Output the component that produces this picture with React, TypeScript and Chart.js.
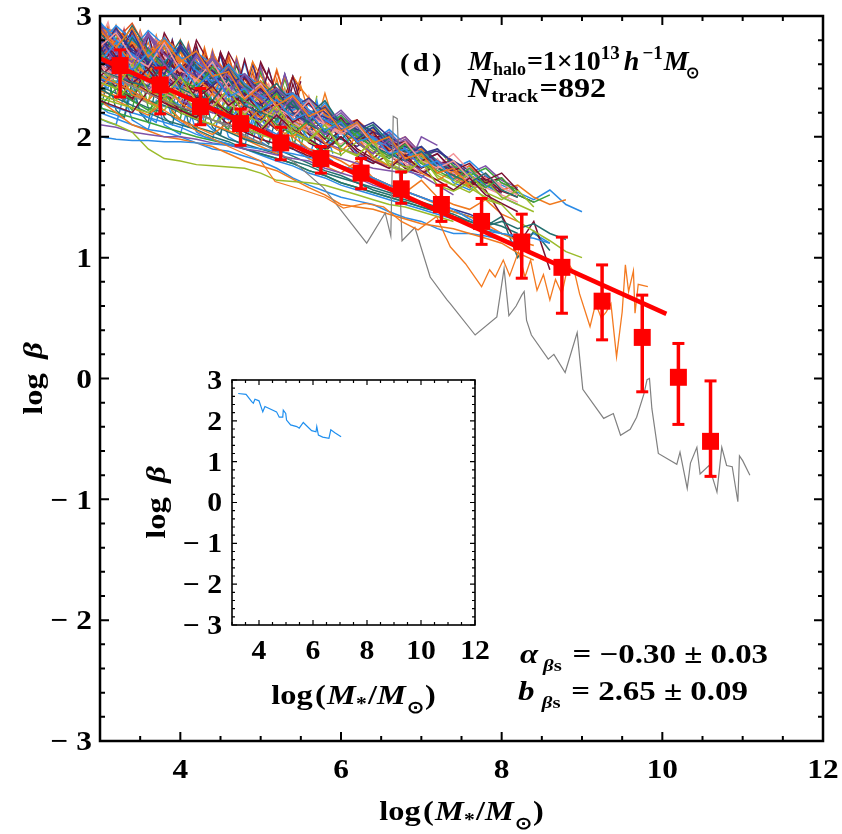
import { useEffect, useRef } from 'react';
import { Chart, registerables } from 'chart.js';

Chart.register(...registerables);

const SERIF = '"Liberation Serif", "Times New Roman", Times, serif';

// Sampling grid (log M*) shared by the individual satellite tracks
const TRACK_X = [3.0, 3.2, 3.4, 3.6, 3.8, 4.0, 4.2, 4.4, 4.6, 4.8, 5.0, 5.2, 5.4, 5.6, 5.8, 6.0, 6.2, 6.4, 6.6, 6.8, 7.0, 7.2, 7.4, 7.6, 7.8, 8.0, 8.2, 8.4, 8.6, 8.8, 9.0];

// log beta along each track, one row per track
const TRACKS: number[][] = [
  [2.88, 2.74, 2.9, 2.66, 2.8, 2.62, 2.71, 2.5, 2.54, 2.31, 2.42, 2.26, 2.34, 2.17, 2.23, 2.05, 2.12, 1.95, 2.0, 1.82, 1.86, 1.7, 1.74, 1.6],
  [2.62, 2.78, 2.55, 2.7, 2.48, 2.6, 2.42, 2.53, 2.33, 2.4, 2.22, 2.31, 2.14, 2.2, 2.05, 2.12, 1.96, 2.0, 1.86, 1.9, 1.75, 1.8, 1.64],
  [2.45, 2.4, 2.6, 2.38, 2.33, 2.5, 2.3, 2.24, 2.4, 2.18, 2.12, 2.26, 2.05, 1.98, 2.1, 1.9, 1.85, 1.96, 1.76, 1.7, 1.8, 1.6, 1.55, 1.62, 1.48, 1.44],
  [2.92, 2.7, 2.55, 2.85, 2.6, 2.46, 2.68, 2.5, 2.36, 2.52, 2.32, 2.2, 2.32, 2.14, 2.02, 2.12, 1.96, 1.86, 1.98, 1.8, 1.72],
  [2.3, 2.25, 2.2, 2.38, 2.28, 2.22, 2.16, 2.3, 2.2, 2.12, 2.05, 2.18, 2.06, 1.98, 1.9, 2.0, 1.88, 1.8, 1.74, 1.85, 1.72, 1.64, 1.56, 1.66, 1.52, 1.45, 1.38],
  [2.75, 2.86, 2.66, 2.58, 2.78, 2.55, 2.47, 2.62, 2.4, 2.32, 2.44, 2.24, 2.16, 2.3, 2.1, 2.02, 2.1, 1.94, 1.87, 1.96, 1.8, 1.74, 1.8, 1.66],
  [2.55, 2.5, 2.45, 2.42, 2.62, 2.4, 2.34, 2.3, 2.48, 2.26, 2.2, 2.15, 2.3, 2.1, 2.04, 1.98, 2.1, 1.92, 1.86, 1.8, 1.88, 1.74, 1.68, 1.62, 1.7, 1.56, 1.5],
  [2.0, 1.98, 1.97, 1.97, 1.96, 1.96, 1.95, 1.94, 1.93, 1.92, 1.9, 1.88, 1.86, 1.83, 1.8, 1.76, 1.72, 1.66, 1.6, 1.55, 1.5, 1.45, 1.4, 1.32, 1.25, 1.2, 1.18, 1.16, 1.12],
  [2.15, 2.1, 2.04, 1.9, 1.82, 1.8, 1.77, 1.76, 1.75, 1.74, 1.7, 1.64, 1.63, 1.62, 1.6, 1.56, 1.52, 1.48, 1.44, 1.42, 1.38, 1.34, 1.3],
  [2.1, 2.08, 2.04, 2.02, 2.0, 2.0, 1.98, 1.95, 1.93, 1.9, 1.88, 1.85, 1.82, 1.8, 1.74, 1.7, 1.66, 1.6, 1.56, 1.5, 1.45],
  [2.82, 2.64, 2.88, 2.6, 2.52, 2.74, 2.5, 2.42, 2.56, 2.34, 2.26, 2.38, 2.2, 2.12, 2.24, 2.06, 1.98, 2.08, 1.92, 1.84, 1.92, 1.78, 1.72],
  [2.68, 2.58, 2.5, 2.72, 2.56, 2.48, 2.4, 2.58, 2.4, 2.3, 2.22, 2.36, 2.2, 2.12, 2.04, 2.14, 2.0, 1.92, 1.84, 1.94, 1.8, 1.72, 1.65, 1.74, 1.6],
  [2.4, 2.56, 2.35, 2.3, 2.45, 2.28, 2.2, 2.36, 2.16, 2.1, 2.24, 2.06, 2.0, 2.12, 1.95, 1.88, 2.0, 1.82, 1.76, 1.86, 1.7, 1.64, 1.72, 1.58],
  [2.95, 2.8, 2.68, 2.58, 2.82, 2.66, 2.55, 2.46, 2.6, 2.44, 2.34, 2.26, 2.36, 2.22, 2.14, 2.06, 2.12, 1.98, 1.92, 1.84, 1.88, 1.76],
  [2.5, 2.62, 2.44, 2.56, 2.38, 2.5, 2.32, 2.42, 2.26, 2.36, 2.2, 2.28, 2.12, 2.2, 2.04, 2.12, 1.96, 2.04, 1.88, 1.95, 1.8, 1.86, 1.72, 1.78, 1.64, 1.7, 1.56],
  [2.78, 2.7, 2.62, 2.84, 2.68, 2.58, 2.5, 2.66, 2.5, 2.4, 2.32, 2.4, 2.28, 2.2, 2.12, 2.22, 2.08, 2.0, 1.94, 2.0, 1.86, 1.8, 1.74],
  [2.35, 2.3, 2.45, 2.28, 2.22, 2.4, 2.2, 2.14, 2.32, 2.12, 2.06, 2.22, 2.02, 1.96, 2.1, 1.9, 1.84, 1.98, 1.78, 1.72, 1.85, 1.66, 1.6, 1.7, 1.54, 1.48, 1.56, 1.42],
  [2.86, 2.7, 2.92, 2.72, 2.6, 2.8, 2.58, 2.48, 2.6, 2.42, 2.34, 2.44, 2.26, 2.18, 2.3, 2.1, 2.04, 2.1, 1.96, 1.88, 1.92, 1.8],
  [2.6, 2.5, 2.42, 2.36, 2.55, 2.4, 2.32, 2.26, 2.46, 2.3, 2.22, 2.16, 2.34, 2.18, 2.1, 2.04, 2.12, 1.98, 1.92, 1.86, 1.88, 1.76, 1.7, 1.64, 1.7, 1.58, 1.52],
  [2.7, 2.9, 2.7, 2.62, 2.55, 2.76, 2.58, 2.5, 2.44, 2.5, 2.38, 2.3, 2.24, 2.32, 2.2, 2.12, 2.06, 2.12, 2.0, 1.92, 1.86, 1.9, 1.78, 1.7],
  [2.25, 2.4, 2.3, 2.22, 2.35, 2.24, 2.16, 2.3, 2.18, 2.1, 2.24, 2.1, 2.02, 2.14, 2.0, 1.92, 2.04, 1.9, 1.82, 1.94, 1.78, 1.7, 1.8, 1.66, 1.58, 1.66, 1.52, 1.46, 1.52],
  [2.9, 2.76, 2.62, 2.5, 2.8, 2.6, 2.48, 2.38, 2.56, 2.4, 2.3, 2.22, 2.36, 2.22, 2.12, 2.04, 2.12, 1.98, 1.9, 1.82, 1.88, 1.76, 1.68, 1.6],
  [2.48, 2.44, 2.7, 2.52, 2.45, 2.4, 2.6, 2.42, 2.36, 2.3, 2.44, 2.26, 2.18, 2.14, 2.28, 2.1, 2.02, 1.96, 2.02, 1.9, 1.82, 1.76, 1.8, 1.68, 1.6],
  [2.58, 2.66, 2.52, 2.46, 2.58, 2.44, 2.38, 2.5, 2.35, 2.28, 2.4, 2.24, 2.18, 2.28, 2.12, 2.06, 2.12, 1.98, 1.92, 1.96, 1.84, 1.78, 1.8, 1.68, 1.62, 1.66, 1.52, 1.46],
  [2.8, 2.62, 2.5, 2.74, 2.58, 2.46, 2.66, 2.5, 2.38, 2.52, 2.36, 2.24, 2.36, 2.22, 2.1, 2.2, 2.06, 1.96, 2.04, 1.9, 1.8, 1.86, 1.72, 1.64],
  [2.32, 2.28, 2.24, 2.2, 2.32, 2.2, 2.15, 2.1, 2.2, 2.08, 2.02, 1.97, 2.08, 1.96, 1.9, 1.85, 1.96, 1.84, 1.76, 1.7, 1.82, 1.68, 1.6, 1.54, 1.64, 1.5, 1.44, 1.38],
  [2.72, 2.56, 2.82, 2.64, 2.52, 2.72, 2.56, 2.44, 2.56, 2.4, 2.3, 2.4, 2.26, 2.16, 2.24, 2.1, 2.0, 2.08, 1.94, 1.86, 1.88],
  [2.42, 2.5, 2.58, 2.44, 2.36, 2.3, 2.48, 2.34, 2.27, 2.2, 2.38, 2.22, 2.15, 2.08, 2.22, 2.08, 2.0, 1.94, 2.0, 1.9, 1.82, 1.76, 1.86, 1.72, 1.66, 1.6],
  [2.66, 2.86, 2.72, 2.64, 2.56, 2.5, 2.7, 2.55, 2.46, 2.4, 2.32, 2.4, 2.3, 2.22, 2.16, 2.1, 2.12, 2.04, 1.98, 1.92, 1.86, 1.88, 1.8, 1.72],
  [2.52, 2.4, 2.34, 2.52, 2.38, 2.3, 2.45, 2.3, 2.22, 2.38, 2.24, 2.14, 2.3, 2.16, 2.06, 2.18, 2.04, 1.96, 2.02, 1.9, 1.82, 1.9, 1.76, 1.68, 1.74, 1.62, 1.56],
  [2.6, 2.52, 2.46, 2.4, 2.36, 2.3, 2.26, 2.22, 2.58, 2.34, 2.1, 2.0, 2.3, 2.04, 1.95, 1.9, 1.86, 1.8, 1.76, 1.72, 1.68, 1.6, 1.52],
  [2.75, 2.5, 2.3, 2.62, 2.4, 2.2, 2.58, 2.35, 2.16, 2.5, 2.28, 2.06, 2.34, 2.1, 1.98, 2.16, 1.95, 1.86, 2.0, 1.82, 1.74, 1.8, 1.68, 1.6, 1.66, 1.55, 1.5],
  [2.7, 2.55, 2.45, 2.36, 2.3, 2.22, 2.15, 2.1, 2.05, 2.0, 1.95, 2.34, 2.0, 1.9, 1.86, 1.8, 1.72, 1.66, 1.6, 1.55, 1.5, 1.44, 1.38, 1.34, 1.28, 1.2, 1.14, 1.1],
  [2.3, 2.2, 2.1, 2.05, 2.0, 1.98, 1.95, 1.92, 1.86, 1.8, 1.76, 1.72, 1.65, 1.58, 1.52, 1.44, 1.42, 1.4, 1.36, 1.32, 1.28, 1.26, 1.24, 1.2, 1.16, 1.12, 1.04, 0.98],
  [2.2, 2.15, 2.1, 2.06, 2.04, 2.0, 1.95, 1.9, 1.88, 1.84, 1.8, 1.74, 1.66, 1.6, 1.55, 1.5, 1.47, 1.44, 1.38, 1.33, 1.3, 1.24, 1.2, 1.2, 1.18, 1.15, 1.12],
  [2.5, 2.44, 2.38, 2.3, 2.26, 2.2, 2.14, 2.1, 2.04, 1.98, 1.94, 1.9, 1.84, 1.78, 1.72, 1.68, 1.62, 1.56, 1.52, 1.48, 1.44, 1.4, 1.36, 1.3, 1.26, 1.3, 1.24, 1.28, 1.2, 1.15],
  [2.62, 2.56, 2.5, 2.46, 2.4, 2.34, 2.3, 2.25, 2.2, 2.12, 2.06, 2.0, 1.94, 1.88, 1.82, 1.76, 1.7, 1.66, 1.6, 1.55, 1.5, 1.45, 1.4, 1.36, 1.3],
  [2.85, 2.7, 2.6, 2.52, 2.44, 2.6, 2.45, 2.36, 2.28, 2.2, 2.32, 2.2, 2.12, 2.04, 1.98, 2.1, 1.98, 1.9, 1.84, 1.78, 1.7, 1.82, 1.66, 1.6, 1.58, 1.52, 1.46],
  [2.45, 2.4, 2.34, 2.28, 2.25, 2.22, 2.18, 2.14, 2.1, 2.06, 2.02, 1.98, 1.92, 1.86, 1.8, 1.74, 1.7, 1.65, 1.6, 1.55],
  [2.55, 2.45, 2.65, 2.5, 2.4, 2.3, 2.5, 2.36, 2.26, 2.18, 2.35, 2.2, 2.1, 2.04, 1.98, 2.1, 1.96, 1.88, 1.8, 1.75, 1.8, 1.7, 1.64, 1.58, 1.5, 1.44, 1.3, 1.22, 1.14, 1.05, 1.0],
  [2.58, 2.4, 2.32, 2.52, 2.3, 2.2, 2.4, 2.22, 2.1, 2.26, 2.08, 2.0, 2.12, 1.95, 1.88, 2.0, 1.84, 1.78, 1.85, 1.74, 1.7, 1.76, 1.66, 1.62, 1.56, 1.35, 1.1, 1.3, 0.9],
  [2.4, 2.32, 2.26, 2.2, 2.14, 2.1, 2.06, 2.0, 1.96, 1.9, 1.86, 1.82, 1.78, 1.72, 1.68, 1.62, 1.58, 1.54, 1.5, 1.46, 1.42, 1.38, 1.34, 1.3, 1.26, 1.34, 1.0, 1.22, 1.06],
  [2.28, 2.24, 2.2, 2.16, 2.12, 2.08, 2.02, 1.98, 1.94, 1.9, 1.85, 1.8, 1.76, 1.7, 1.66, 1.6, 1.56, 1.52, 1.48, 1.44, 1.4, 1.36, 1.32, 1.28, 1.22, 1.2, 1.16, 1.2, 1.12],
  [2.7, 2.6, 2.5, 2.42, 2.36, 2.3, 2.24, 2.2, 2.15, 2.1, 2.04, 2.0, 1.95, 1.9, 1.86, 1.82, 1.78, 1.74, 1.72, 1.7, 2.0, 1.93],
  [2.6, 2.5, 2.44, 2.38, 2.3, 2.24, 2.2, 2.14, 2.1, 2.04, 1.98, 1.94, 1.9, 1.84, 1.8, 1.75, 1.72, 2.0, 2.0, 1.86, 1.78, 1.74, 1.72, 1.68, 1.58],
  [2.9, 2.84, 2.78, 2.7, 2.82, 2.7, 2.6, 2.5, 2.58, 2.44, 2.36, 2.28, 2.34, 2.2, 2.12, 2.05, 2.1, 1.98, 1.9],
  [2.76, 2.92, 2.8, 2.7, 2.62, 2.76, 2.62, 2.52, 2.44, 2.5, 2.38, 2.3, 2.22, 2.3, 2.16, 2.08],
  [2.86, 2.62, 2.76, 2.56, 2.7, 2.5, 2.62, 2.42, 2.54, 2.34, 2.44, 2.24, 2.34, 2.16, 2.24, 2.06, 2.14, 1.98, 2.0, 1.86],
  [2.64, 2.8, 2.94, 2.7, 2.56, 2.76, 2.6, 2.48, 2.6, 2.44, 2.32, 2.4, 2.26, 2.16, 2.26, 2.1, 2.02],
  [2.94, 2.78, 2.66, 2.86, 2.7, 2.58, 2.5, 2.64, 2.5, 2.4, 2.32, 2.4, 2.28, 2.18, 2.12, 2.16, 2.04, 1.96, 1.9, 1.98, 1.84, 1.76],
  [2.7, 2.6, 2.84, 2.66, 2.56, 2.74, 2.58, 2.48, 2.58, 2.42, 2.32, 2.4, 2.26, 2.16, 2.25, 2.1, 2.02, 2.08, 1.94, 1.86, 1.88, 1.76, 1.7, 1.72, 1.6, 1.52],
  [2.84, 2.9, 2.76, 2.68, 2.8, 2.64, 2.56, 2.66, 2.52, 2.42, 2.46, 2.32, 2.24, 2.32, 2.18, 2.08, 2.12, 2.0, 1.92, 1.96, 1.84, 1.76],
  [2.58, 2.76, 2.62, 2.86, 2.64, 2.52, 2.7, 2.54, 2.42, 2.52, 2.38, 2.26, 2.36, 2.2, 2.1, 2.16, 2.04, 1.94, 2.0, 1.88, 1.8],
  [2.8, 2.7, 2.62, 2.56, 2.5, 2.72, 2.6, 2.5, 2.44, 2.38, 2.46, 2.34, 2.26, 2.2, 2.14, 2.16, 2.06, 1.98, 1.92, 1.86, 1.88, 1.8, 1.72, 1.66],
  [2.46, 2.64, 2.5, 2.42, 2.6, 2.44, 2.36, 2.54, 2.38, 2.3, 2.42, 2.28, 2.2, 2.3, 2.16, 2.08, 2.12, 2.0, 1.92, 1.98, 1.84, 1.76, 1.76, 1.68, 1.6, 1.62, 1.52],
  [2.92, 2.86, 2.72, 2.88, 2.76, 2.64, 2.7, 2.6, 2.5, 2.52, 2.42, 2.34, 2.36, 2.26, 2.18, 2.16, 2.1, 2.02],
  [2.38, 2.34, 2.5, 2.36, 2.3, 2.46, 2.3, 2.24, 2.4, 2.24, 2.16, 2.3, 2.14, 2.06, 2.2, 2.04, 1.96, 2.06, 1.92, 1.84, 1.9, 1.78, 1.7, 1.76, 1.64, 1.56, 1.6, 1.5, 1.44, 1.48],
  [2.68, 2.54, 2.44, 2.62, 2.48, 2.38, 2.3, 2.5, 2.36, 2.26, 2.2, 2.34, 2.2, 2.1, 2.04, 2.14, 2.02, 1.94, 1.88, 1.94, 1.84, 1.76, 1.7, 1.72, 1.62, 1.56],
  [2.88, 2.66, 2.84, 2.6, 2.8, 2.56, 2.7, 2.5, 2.6, 2.42, 2.46, 2.3, 2.36, 2.2, 2.24, 2.08, 2.12, 1.96, 2.02, 1.86, 1.88, 1.74, 1.76, 1.62, 1.64, 1.52],
  [2.5, 2.46, 2.42, 2.62, 2.46, 2.4, 2.34, 2.3, 2.48, 2.34, 2.26, 2.2, 2.16, 2.3, 2.16, 2.08, 2.02, 1.96, 2.06, 1.94, 1.86, 1.8, 1.74, 1.8, 1.68, 1.6, 1.54, 1.48, 1.56, 1.44, 1.38],
  [2.74, 2.9, 2.74, 2.64, 2.8, 2.64, 2.56, 2.66, 2.52, 2.42, 2.46, 2.32, 2.24, 2.32, 2.18, 2.1, 2.14, 2.02, 1.94, 2.0, 1.86],
  [2.52, 2.44, 2.36, 2.5, 2.34, 2.26, 2.4, 2.22, 2.14, 2.28, 2.1, 2.02, 2.16, 1.98, 1.9, 2.04, 1.86, 1.78, 1.92, 1.74, 1.66, 1.8, 1.62, 1.56, 1.66, 1.5, 1.44],
  [2.36, 2.3, 2.24, 2.18, 2.3, 2.14, 2.08, 2.02, 2.12, 1.98, 1.92, 1.86, 1.96, 1.82, 1.76, 1.7, 1.8, 1.66, 1.6, 1.54, 1.64, 1.5, 1.44, 1.4, 1.48, 1.36, 1.3],
  [2.66, 2.5, 2.42, 2.56, 2.4, 2.3, 2.44, 2.28, 2.2, 2.32, 2.16, 2.06, 2.2, 2.02, 1.94, 2.06, 1.9, 1.82, 1.94, 1.76, 1.7, 1.8, 1.66, 1.58, 1.68, 1.54],
  [2.42, 2.36, 2.3, 2.24, 2.2, 2.14, 2.08, 2.04, 1.98, 1.94, 1.9, 1.86, 1.8, 1.76, 1.7, 1.66, 1.62, 1.58, 1.54, 1.5, 1.46, 1.42, 1.38, 1.34, 1.3, 1.26, 1.2],
  [2.76, 2.6, 2.5, 2.66, 2.5, 2.4, 2.54, 2.38, 2.28, 2.4, 2.26, 2.16, 2.28, 2.12, 2.04, 2.16, 2.0, 1.92, 2.02, 1.88, 1.8, 1.9, 1.76, 1.7, 1.76, 1.64, 1.58],
  [2.24, 2.2, 2.16, 2.12, 2.08, 2.04, 2.0, 1.97, 1.94, 1.9, 1.86, 1.82, 1.78, 1.72, 1.68, 1.62, 1.58, 1.54, 1.5, 1.46, 1.42, 1.38, 1.34, 1.3, 1.24, 1.2, 1.16],
  [2.58, 2.5, 2.44, 2.38, 2.5, 2.36, 2.3, 2.24, 2.36, 2.22, 2.16, 2.1, 2.2, 2.06, 2.0, 1.94, 2.04, 1.9, 1.84, 1.78, 1.86, 1.74, 1.68, 1.62, 1.7, 1.58, 1.52],
  [2.48, 2.42, 2.56, 2.4, 2.34, 2.46, 2.3, 2.24, 2.36, 2.2, 2.14, 2.26, 2.1, 2.04, 2.14, 1.98, 1.92, 2.02, 1.86, 1.8, 1.9, 1.74, 1.68, 1.76, 1.6, 1.54],
];

// Colour key per track (see PALETTE)
const TRACK_COLORS = [
  'o', 'b', 'g', 'p', 'm', 'k', 't', 'b', 'g', 'p',
  'n', 'G', 'o', 'b', 'm', 'p', 'g', 't', 'k', 'n',
  'G', 'o', 'b', 'm', 'p', 'g', 't', 'k', 'n', 'G',
  'p', 'm', 'o', 'o', 'b', 't', 'n', 'k', 'y', 'g',
  'm', 't', 'b', 'p', 'm', 'o', 'b', 'm', 'r', 'p',
  'b', 'o', 'm', 'G', 'k', 'b', 'o', 'n', 'm', 'b',
  'r', 'b', 'o', 'm', 't', 'p', 'G', 'k', 'n',
];

// Finer grid for the strongly jagged early parts of the tracks
const TRACK_XF = [3.0, 3.1, 3.2, 3.3, 3.4, 3.5, 3.6, 3.7, 3.8, 3.9, 4.0, 4.1, 4.2, 4.3, 4.4, 4.5, 4.6, 4.7, 4.8, 4.9, 5.0, 5.1, 5.2, 5.3, 5.4, 5.5, 5.6, 5.7, 5.8, 5.9, 6.0];

const TRACKS_F: number[][] = [
  [2.92, 2.7, 2.62, 2.88, 2.66, 2.58, 2.85, 2.62, 2.52, 2.8, 2.58, 2.48, 2.76, 2.52, 2.44, 2.7, 2.46, 2.38, 2.64, 2.4, 2.32, 2.56, 2.34, 2.26, 2.5, 2.28],
  [2.6, 2.85, 2.55, 2.5, 2.82, 2.52, 2.46, 2.78, 2.48, 2.42, 2.74, 2.44, 2.38, 2.68, 2.4, 2.34, 2.62, 2.34, 2.28, 2.55, 2.3, 2.22, 2.48, 2.24, 2.16, 2.42, 2.2, 2.12, 2.36, 2.14],
  [2.45, 2.4, 2.72, 2.4, 2.36, 2.32, 2.68, 2.36, 2.3, 2.62, 2.3, 2.26, 2.22, 2.56, 2.24, 2.18, 2.5, 2.2, 2.14, 2.1, 2.44, 2.12, 2.06, 2.36, 2.06, 2.0, 1.96, 2.3, 1.98, 1.92],
  [2.8, 2.95, 2.68, 2.9, 2.62, 2.86, 2.58, 2.82, 2.54, 2.76, 2.5, 2.7, 2.46, 2.66, 2.42, 2.6, 2.38, 2.54, 2.32, 2.5, 2.28, 2.44, 2.24, 2.38, 2.2, 2.32],
  [2.3, 2.26, 2.6, 2.3, 2.22, 2.55, 2.24, 2.2, 2.5, 2.2, 2.15, 2.46, 2.16, 2.1, 2.42, 2.12, 2.06, 2.36, 2.08, 2.02, 2.3, 2.02, 1.98, 2.24, 1.96, 1.92, 2.18, 1.9, 1.86, 2.12, 1.84],
  [2.88, 2.6, 2.9, 2.64, 2.55, 2.86, 2.6, 2.5, 2.82, 2.54, 2.46, 2.76, 2.5, 2.42, 2.7, 2.44, 2.38, 2.64, 2.4, 2.32, 2.58, 2.34, 2.28, 2.52, 2.28, 2.22],
  [2.7, 2.64, 2.58, 2.52, 2.8, 2.7, 2.62, 2.56, 2.5, 2.76, 2.64, 2.56, 2.5, 2.44, 2.7, 2.58, 2.5, 2.44, 2.38, 2.62, 2.5, 2.42, 2.36, 2.3, 2.5, 2.4, 2.32, 2.26],
  [2.2, 2.5, 2.22, 2.16, 2.46, 2.2, 2.12, 2.42, 2.16, 2.1, 2.38, 2.12, 2.06, 2.34, 2.08, 2.02, 2.3, 2.04, 1.98, 2.24, 2.0, 1.94, 2.18, 1.94, 1.9, 2.14],
  [2.94, 2.82, 2.72, 2.64, 2.9, 2.78, 2.68, 2.6, 2.86, 2.74, 2.64, 2.56, 2.8, 2.68, 2.58, 2.5, 2.7, 2.58, 2.48, 2.42, 2.6, 2.48, 2.4, 2.34, 2.5, 2.38],
  [2.55, 2.78, 2.5, 2.74, 2.46, 2.7, 2.42, 2.66, 2.38, 2.62, 2.36, 2.58, 2.32, 2.54, 2.28, 2.5, 2.24, 2.46, 2.2, 2.4, 2.16, 2.36, 2.12, 2.3, 2.08, 2.24, 2.04, 2.2],
  [2.4, 2.36, 2.32, 2.66, 2.38, 2.32, 2.28, 2.62, 2.34, 2.28, 2.24, 2.58, 2.3, 2.24, 2.2, 2.52, 2.24, 2.18, 2.14, 2.46, 2.18, 2.12, 2.08, 2.4, 2.12, 2.06, 2.02, 2.34],
  [2.85, 2.7, 2.92, 2.72, 2.62, 2.88, 2.68, 2.58, 2.84, 2.62, 2.52, 2.78, 2.56, 2.46, 2.72, 2.5, 2.4, 2.66, 2.44, 2.34, 2.58, 2.38, 2.28, 2.5, 2.3, 2.22],
  [2.65, 2.6, 2.55, 2.84, 2.6, 2.54, 2.5, 2.8, 2.56, 2.5, 2.45, 2.74, 2.5, 2.44, 2.4, 2.68, 2.44, 2.38, 2.34, 2.6, 2.38, 2.32, 2.28, 2.52, 2.32, 2.26],
  [2.25, 2.2, 2.18, 2.15, 2.4, 2.2, 2.16, 2.12, 2.36, 2.16, 2.12, 2.08, 2.32, 2.12, 2.06, 2.02, 2.26, 2.06, 2.0, 1.96, 2.2, 2.0, 1.96, 1.92, 2.14, 1.94, 1.9, 1.86, 2.06, 1.86],
  [2.9, 2.76, 2.66, 2.58, 2.52, 2.84, 2.7, 2.6, 2.52, 2.46, 2.78, 2.64, 2.54, 2.46, 2.4, 2.7, 2.56, 2.46, 2.38, 2.32, 2.62, 2.48, 2.38, 2.3, 2.24, 2.46],
  [2.5, 2.46, 2.76, 2.5, 2.44, 2.72, 2.46, 2.4, 2.68, 2.42, 2.36, 2.64, 2.38, 2.32, 2.58, 2.34, 2.28, 2.52, 2.28, 2.24, 2.46, 2.24, 2.18, 2.4, 2.18, 2.14, 2.34, 2.12],
  [2.75, 2.9, 2.7, 2.6, 2.86, 2.66, 2.56, 2.82, 2.62, 2.52, 2.78, 2.56, 2.48, 2.72, 2.52, 2.42, 2.66, 2.46, 2.38, 2.6, 2.4, 2.32, 2.54, 2.34, 2.26],
  [2.35, 2.62, 2.36, 2.3, 2.58, 2.34, 2.28, 2.54, 2.3, 2.24, 2.5, 2.26, 2.2, 2.46, 2.22, 2.16, 2.42, 2.18, 2.12, 2.36, 2.14, 2.08, 2.3, 2.08, 2.04, 2.24, 2.02, 1.98, 2.18, 1.96],
  [2.62, 2.58, 2.54, 2.88, 2.58, 2.52, 2.84, 2.56, 2.48, 2.8, 2.5, 2.44, 2.74, 2.46, 2.4, 2.68, 2.42, 2.36, 2.62, 2.38, 2.3, 2.56, 2.32, 2.26, 2.5, 2.26],
  [2.92, 2.8, 2.86, 2.7, 2.82, 2.66, 2.78, 2.62, 2.74, 2.58, 2.7, 2.54, 2.64, 2.5, 2.6, 2.46, 2.54, 2.42, 2.48, 2.36, 2.44, 2.32, 2.38, 2.28, 2.34, 2.22],
  [2.48, 2.44, 2.4, 2.36, 2.7, 2.46, 2.4, 2.36, 2.32, 2.64, 2.42, 2.36, 2.3, 2.26, 2.58, 2.36, 2.3, 2.24, 2.2, 2.52, 2.3, 2.24, 2.18, 2.14, 2.44, 2.22, 2.16, 2.12],
  [2.78, 2.55, 2.82, 2.56, 2.5, 2.8, 2.54, 2.46, 2.76, 2.5, 2.42, 2.72, 2.46, 2.38, 2.66, 2.42, 2.34, 2.6, 2.36, 2.28, 2.54, 2.3, 2.24, 2.48, 2.26, 2.2],
  [2.15, 2.12, 2.1, 2.35, 2.14, 2.1, 2.06, 2.3, 2.1, 2.06, 2.02, 2.26, 2.04, 2.0, 1.98, 2.22, 2.0, 1.96, 1.92, 2.16, 1.96, 1.92, 1.88, 2.1, 1.9, 1.86, 1.82, 2.04, 1.84, 1.8],
  [2.68, 2.92, 2.66, 2.6, 2.88, 2.62, 2.56, 2.84, 2.58, 2.5, 2.8, 2.54, 2.46, 2.74, 2.5, 2.42, 2.68, 2.44, 2.38, 2.62, 2.4, 2.32, 2.56, 2.34, 2.28, 2.5],
];

const TRACK_COLORS_F = [
  'm', 'o', 'b', 'k', 'G', 'p', 'o', 't', 'm', 'b',
  'g', 'o', 'n', 'b', 'm', 'k', 'r', 'p', 'b', 'o',
  'm', 'G', 'b', 'o',
];

const PALETTE: Record<string, string> = {
  o: '#f07a1e',
  b: '#2b8be6',
  g: '#9bbb2a',
  p: '#7f53a8',
  m: '#7b1030',
  k: '#f4959a',
  t: '#23706f',
  n: '#35358e',
  G: '#3ca33c',
  r: '#e0531f',
  y: '#8a8a8a',
};

// Longest-lived tracks, sampled irregularly
const GRAY_X = [3.0, 3.4, 3.8, 4.2, 4.6, 5.0, 5.4, 5.78, 6.05, 6.32, 6.55, 6.62, 6.65, 6.7, 6.76, 6.92, 7.11, 7.32, 7.36, 7.67, 7.94, 8.03, 8.09, 8.18, 8.25, 8.28, 8.31, 8.37, 8.58, 8.65, 8.79, 8.94, 9.01, 9.27, 9.39, 9.48, 9.6, 9.68, 9.77, 9.81, 9.84, 9.87, 9.95, 10.18, 10.22, 10.31, 10.35, 10.43, 10.47, 10.58, 10.68, 10.74, 10.8, 10.87, 10.94, 10.96, 11.0, 11.09];
const GRAY_Y = [2.55, 2.42, 2.3, 2.2, 2.08, 1.95, 1.8, 1.58, 1.35, 1.12, 1.37, 1.18, 2.17, 2.15, 1.14, 1.25, 0.84, 0.65, 0.62, 0.36, 0.51, 0.91, 0.52, 0.6, 0.69, 0.72, 0.48, 0.36, 0.16, 0.2, 0.05, 0.38, -0.09, -0.33, -0.29, -0.47, -0.42, -0.32, -0.13, -0.01, 0.0, -0.25, -0.62, -0.71, -0.61, -0.91, -0.7, -0.57, -0.79, -0.72, -0.94, -0.57, -0.72, -0.73, -1.02, -0.64, -0.68, -0.8];

const ORANGE_X = [3.0, 3.4, 3.8, 4.2, 4.6, 5.0, 5.18, 5.53, 5.8, 6.03, 6.3, 6.53, 6.75, 6.96, 7.19, 7.36, 7.55, 7.75, 7.85, 7.92, 8.02, 8.1, 8.21, 8.29, 8.36, 8.44, 8.52, 8.6, 8.67, 8.75, 8.83, 8.91, 8.97, 9.1, 9.17, 9.24, 9.3, 9.36, 9.43, 9.5, 9.54, 9.58, 9.64, 9.66, 9.7, 9.82];
const ORANGE_Y = [2.5, 2.38, 2.22, 2.05, 1.92, 1.8, 1.63, 1.56, 1.5, 1.41, 1.45, 1.42, 1.3, 1.23, 1.34, 1.09, 0.95, 0.76, 0.9, 0.84, 0.98, 0.85, 1.05, 0.84, 0.98, 0.73, 0.86, 0.65, 0.82, 0.7, 0.95, 0.87, 0.7, 0.43, 0.62, 0.5, 0.55, 0.62, 0.18, 0.55, 0.94, 0.72, 0.89, 0.54, 0.78, 0.76];

// Binned medians with their spread
const BIN_X = [3.25, 3.75, 4.25, 4.75, 5.25, 5.75, 6.25, 6.75, 7.25, 7.75, 8.25, 8.75, 9.25, 9.75, 10.2, 10.6];
const BIN_Y = [2.59, 2.43, 2.25, 2.11, 1.95, 1.82, 1.7, 1.57, 1.44, 1.3, 1.13, 0.92, 0.64, 0.34, 0.01, -0.52];
const BIN_HI = [2.72, 2.57, 2.4, 2.23, 2.08, 1.92, 1.82, 1.71, 1.6, 1.49, 1.36, 1.17, 0.94, 0.69, 0.29, -0.02];
const BIN_LO = [2.33, 2.19, 2.1, 1.93, 1.81, 1.7, 1.57, 1.45, 1.3, 1.11, 0.83, 0.54, 0.32, -0.11, -0.38, -0.81];

// Linear fit log beta = b + alpha (log M* - 3)
const FIT_ALPHA = -0.3;
const FIT_ALPHA_ERR = 0.03;
const FIT_B = 2.65;
const FIT_B_ERR = 0.09;
const FIT_X0 = 3;
const FIT_X1 = 10.05;

const N_TRACK = 892;

// Single example track shown in the inset
const INSET_X = [3.23, 3.52, 3.73, 3.79, 3.85, 4.0, 4.14, 4.22, 4.65, 4.75, 4.88, 4.9, 4.99, 5.02, 5.17, 5.4, 5.49, 5.64, 5.95, 6.11, 6.14, 6.2, 6.36, 6.59, 6.66, 6.81, 7.04];
const INSET_Y = [2.67, 2.65, 2.47, 2.43, 2.53, 2.49, 2.22, 2.35, 2.22, 2.09, 2.09, 2.26, 2.18, 2.02, 1.9, 1.86, 1.82, 1.96, 1.76, 1.73, 1.86, 1.65, 1.6, 1.57, 1.78, 1.71, 1.61];

const X_LABELS = [4, 6, 8, 10, 12];
const Y_LABELS = [-3, -2, -1, 0, 1, 2, 3];

type Run = { t: string; size: number; italic?: boolean; dy?: number; pre?: number };

function drawRuns(
  ctx: CanvasRenderingContext2D,
  x: number,
  y: number,
  runs: Run[],
  align: 'left' | 'center' | 'right',
  sx = 1,
) {
  const font = (r: Run) => `${r.italic ? 'italic ' : ''}bold ${r.size}px ${SERIF}`;
  ctx.save();
  ctx.fillStyle = '#000';
  ctx.textAlign = 'left';
  ctx.textBaseline = 'alphabetic';
  let w = 0;
  for (const r of runs) {
    ctx.font = font(r);
    w += (r.pre || 0) + ctx.measureText(r.t).width;
  }
  const start = align === 'left' ? x : align === 'center' ? x - (w * sx) / 2 : x - w * sx;
  ctx.translate(start, y);
  ctx.scale(sx, 1);
  let cx = 0;
  for (const r of runs) {
    ctx.font = font(r);
    cx += r.pre || 0;
    ctx.fillText(r.t, cx, r.dy || 0);
    cx += ctx.measureText(r.t).width;
  }
  ctx.restore();
}

const minus = (v: number) => (v < 0 ? '\u2212 ' + Math.abs(v) : String(v));
const fmt2 = (v: number) => (v < 0 ? '\u2212' : '') + Math.abs(v).toFixed(2);

type AxisStyle = {
  frameWidth: number;
  tickWidth: number;
  major: number;
  minor: number;
  xStep: number;
  yStep: number;
  labelSize: number;
  labelSx: number;
  xLabelBase: number;
  yLabelGap: number;
  titleSize: number;
  titleSx: number;
  xTitleBase: number;
  yTitleOffset: number;
};

function drawAxes(chart: Chart, s: AxisStyle) {
  const { ctx, chartArea: a } = chart;
  const xs = chart.scales.x;
  const ys = chart.scales.y;
  ctx.save();
  ctx.strokeStyle = '#000';
  ctx.lineWidth = s.tickWidth;
  ctx.beginPath();
  const nx = Math.round((xs.max - xs.min) / s.xStep);
  for (let i = 0; i <= nx; i++) {
    const v = xs.min + i * s.xStep;
    const p = xs.getPixelForValue(v);
    const len = X_LABELS.some((l) => Math.abs(l - v) < 1e-6) ? s.major : s.minor;
    ctx.moveTo(p, a.bottom);
    ctx.lineTo(p, a.bottom - len);
    ctx.moveTo(p, a.top);
    ctx.lineTo(p, a.top + len);
  }
  const ny = Math.round((ys.max - ys.min) / s.yStep);
  for (let i = 0; i <= ny; i++) {
    const v = ys.min + i * s.yStep;
    const p = ys.getPixelForValue(v);
    const len = Math.abs(v - Math.round(v)) < 1e-6 ? s.major : s.minor;
    ctx.moveTo(a.left, p);
    ctx.lineTo(a.left + len, p);
    ctx.moveTo(a.right, p);
    ctx.lineTo(a.right - len, p);
  }
  ctx.stroke();
  ctx.lineWidth = s.frameWidth;
  ctx.strokeRect(a.left, a.top, a.right - a.left, a.bottom - a.top);
  ctx.restore();

  for (const v of X_LABELS) {
    drawRuns(ctx, xs.getPixelForValue(v), a.bottom + s.xLabelBase, [{ t: String(v), size: s.labelSize }], 'center', s.labelSx);
  }
  for (const v of Y_LABELS) {
    drawRuns(ctx, a.left - s.yLabelGap, ys.getPixelForValue(v) + s.labelSize * 0.33, [{ t: minus(v), size: s.labelSize }], 'right', s.labelSx);
  }

  const ts = s.titleSize;
  const sub = Math.round(ts * 0.68);
  drawRuns(
    ctx,
    (a.left + a.right) / 2,
    a.bottom + s.xTitleBase,
    [
      { t: 'log', size: ts },
      { t: '(', size: ts, pre: 2 },
      { t: 'M', size: ts, italic: true, pre: 1 },
      { t: '*', size: sub, dy: ts * 0.22 },
      { t: '/', size: ts, pre: 1 },
      { t: 'M', size: ts, italic: true },
      { t: '\u2299', size: sub - 1, dy: ts * 0.34, pre: 1 },
      { t: ')', size: ts, pre: 1 },
    ],
    'center',
    s.titleSx,
  );

  ctx.save();
  ctx.translate(a.left - s.yTitleOffset, (a.top + a.bottom) / 2);
  ctx.rotate(-Math.PI / 2);
  drawRuns(ctx, 0, ts * 0.33, [{ t: 'log', size: ts }, { t: '\u03b2', size: ts, italic: true, pre: ts * 0.45 }], 'center', s.titleSx);
  ctx.restore();
}

const MAIN_STYLE: AxisStyle = {
  frameWidth: 2.5,
  tickWidth: 2,
  major: 9,
  minor: 5,
  xStep: 0.5,
  yStep: 0.2,
  labelSize: 28,
  labelSx: 1.12,
  xLabelBase: 37,
  yLabelGap: 8,
  titleSize: 27,
  titleSx: 1.2,
  xTitleBase: 79,
  yTitleOffset: 67,
};

const INSET_STYLE: AxisStyle = {
  frameWidth: 1.6,
  tickWidth: 1.2,
  major: 5,
  minor: 3,
  xStep: 0.5,
  yStep: 0.2,
  labelSize: 27,
  labelSx: 1.1,
  xLabelBase: 34,
  yLabelGap: 10,
  titleSize: 27,
  titleSx: 1.2,
  xTitleBase: 79,
  yTitleOffset: 76,
};

const mainAnnotations = {
  id: 'mainAnnotations',
  afterDraw(chart: Chart) {
    drawAxes(chart, MAIN_STYLE);
    const ctx = chart.ctx;
    drawRuns(ctx, 400, 71, [{ t: '(', size: 26 }, { t: 'd', size: 26, pre: 3 }, { t: ')', size: 26, pre: 3 }], 'left', 1.1);
    drawRuns(
      ctx,
      468,
      70,
      [
        { t: 'M', size: 28, italic: true },
        { t: 'halo', size: 18, dy: 5 },
        { t: '=1\u00d710', size: 28, pre: 1 },
        { t: '13', size: 19, dy: -11 },
        { t: 'h', size: 28, italic: true, pre: 4 },
        { t: '\u22121', size: 19, dy: -11, pre: 3 },
        { t: 'M', size: 28, italic: true, pre: 1 },
        { t: '\u2299', size: 16, dy: 8, pre: -3 },
      ],
      'left',
      1.0,
    );
    drawRuns(
      ctx,
      468,
      97,
      [
        { t: 'N', size: 28, italic: true },
        { t: 'track', size: 18, dy: 5 },
        { t: '=' + N_TRACK, size: 28, pre: 1 },
      ],
      'left',
      1.15,
    );
    drawRuns(
      ctx,
      520,
      663,
      [
        { t: '\u03b1', size: 27, italic: true },
        { t: '\u03b2', size: 17, italic: true, dy: 8, pre: 4 },
        { t: 's', size: 17, dy: 8 },
        { t: ' = ' + fmt2(FIT_ALPHA) + ' \u00b1 ' + fmt2(FIT_ALPHA_ERR), size: 27, pre: 2 },
      ],
      'left',
      1.22,
    );
    drawRuns(
      ctx,
      518,
      700,
      [
        { t: 'b', size: 27, italic: true },
        { t: '\u03b2', size: 17, italic: true, dy: 8, pre: 6 },
        { t: 's', size: 17, dy: 8 },
        { t: ' = ' + fmt2(FIT_B) + ' \u00b1 ' + fmt2(FIT_B_ERR), size: 27, pre: 2 },
      ],
      'left',
      1.22,
    );
  },
};

const insetAxes = {
  id: 'insetAxes',
  afterDraw(chart: Chart) {
    drawAxes(chart, INSET_STYLE);
  },
};

const pts = (xs: number[], ys: number[]) => xs.map((x, i) => ({ x, y: ys[i] }));

function baseOptions(padding: { left: number; top: number; right: number; bottom: number }) {
  return {
    responsive: false,
    animation: false as const,
    events: [] as any[],
    layout: { padding },
    plugins: { legend: { display: false }, tooltip: { enabled: false }, title: { display: false } },
    elements: { line: { tension: 0 }, point: { radius: 0 } },
    scales: {
      x: { type: 'linear' as const, min: 3, max: 12, display: false },
      y: { type: 'linear' as const, min: -3, max: 3, display: false },
    },
  };
}

export default function App() {
  const mainRef = useRef<HTMLCanvasElement>(null);
  const insetRef = useRef<HTMLCanvasElement>(null);

  useEffect(() => {
    if (!mainRef.current || !insetRef.current) return;

    const datasets: any[] = [];
    datasets.push({
      data: pts(BIN_X, BIN_Y),
      showLine: false,
      pointStyle: 'rect',
      pointRadius: 12,
      pointBackgroundColor: '#ff0000',
      pointBorderWidth: 0,
      order: 0,
    });
    const bars: any[] = [];
    BIN_X.forEach((x, i) => {
      bars.push({ x, y: BIN_LO[i] }, { x, y: BIN_HI[i] }, { x, y: null });
    });
    datasets.push({
      data: bars,
      borderColor: '#ff0000',
      borderWidth: 3.5,
      pointStyle: 'line',
      pointRadius: 6,
      pointBorderColor: '#ff0000',
      pointBorderWidth: 3,
      spanGaps: false,
      order: 1,
    });
    datasets.push({
      data: [
        { x: FIT_X0, y: FIT_B },
        { x: FIT_X1, y: FIT_B + FIT_ALPHA * (FIT_X1 - FIT_X0) },
      ],
      borderColor: '#ff0000',
      borderWidth: 4.5,
      order: 2,
    });
    datasets.push({ data: pts(ORANGE_X, ORANGE_Y), borderColor: '#f47a20', borderWidth: 1.3, order: 3 });
    datasets.push({ data: pts(GRAY_X, GRAY_Y), borderColor: '#808080', borderWidth: 1.2, order: 4 });
    TRACKS.forEach((ys, k) => {
      datasets.push({
        data: pts(TRACK_X.slice(0, ys.length), ys),
        borderColor: PALETTE[TRACK_COLORS[k]] || '#2b8be6',
        borderWidth: 1.5,
        order: 5,
      });
    });
    TRACKS_F.forEach((ys, k) => {
      datasets.push({
        data: pts(TRACK_XF.slice(0, ys.length), ys),
        borderColor: PALETTE[TRACK_COLORS_F[k]] || '#f07a1e',
        borderWidth: 1.4,
        order: 6,
      });
    });

    const main = new Chart(mainRef.current, {
      type: 'line',
      data: { datasets },
      options: baseOptions({ left: 100, top: 16, right: 19, bottom: 93 }) as any,
      plugins: [mainAnnotations],
    });

    const inset = new Chart(insetRef.current, {
      type: 'line',
      data: {
        datasets: [{ data: pts(INSET_X, INSET_Y), borderColor: '#1f8fef', borderWidth: 1.2 }],
      },
      options: baseOptions({ left: 102, top: 20, right: 15, bottom: 95 }) as any,
      plugins: [insetAxes],
    });

    return () => {
      main.destroy();
      inset.destroy();
    };
  }, []);

  return (
    <div style={{ position: 'absolute', left: 0, top: 0, width: 842, height: 834, background: '#fff' }}>
      <canvas ref={mainRef} width={842} height={834} style={{ position: 'absolute', left: 0, top: 0 }} />
      <canvas ref={insetRef} width={360} height={360} style={{ position: 'absolute', left: 130, top: 360 }} />
    </div>
  );
}
